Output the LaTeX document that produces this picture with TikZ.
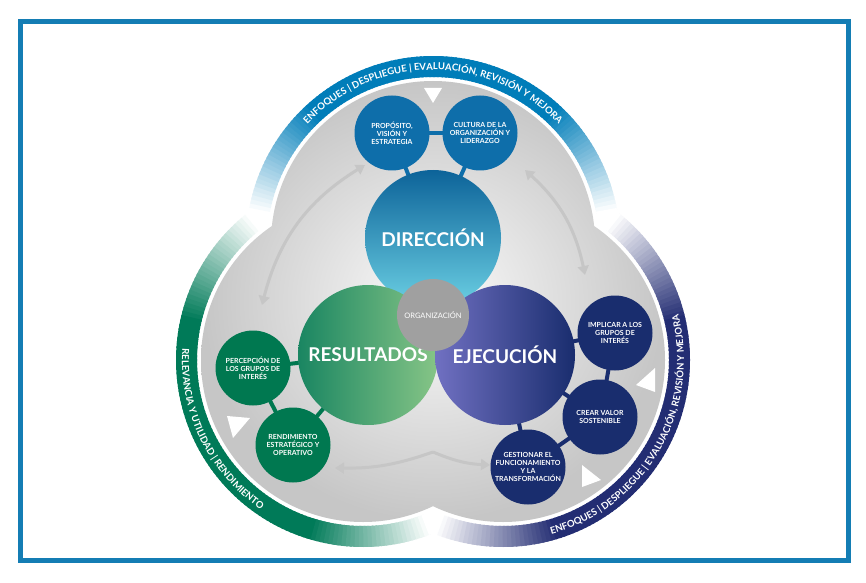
\documentclass[tikz,border=0pt]{standalone}
\usepackage{fontspec}
\setmainfont{Lato}
\usetikzlibrary{decorations.text,arrows.meta}
\definecolor{frameblue}{RGB}{20,125,180}
\definecolor{topblue}{RGB}{0,125,185}
\definecolor{leftgreen}{RGB}{0,122,88}
\definecolor{rightnavy}{RGB}{35,45,115}
\definecolor{propblue}{RGB}{14,110,170}
\definecolor{resgreen}{RGB}{0,120,80}
\definecolor{ejenavy}{RGB}{25,45,110}
\definecolor{orggray}{RGB}{160,160,160}
% band of one lobe, fading to white at both ends
\newcommand{\drawband}[4]{%
  \foreach \i in {0,...,119}{%
    \pgfmathsetmacro\aa{#2+(#3-#2)/120*\i}
    \pgfmathsetmacro\ab{#2+(#3-#2)/120*(\i+1.5)}
    \pgfmathtruncatemacro\pp{100*min(1,min(\i,119-\i)/28)}
    \draw[line width=21pt,#4!\pp!white] (#1) ++(\aa:176.5) arc[start angle=\aa,end angle=\ab,radius=176.5];
  }}
\begin{document}
\begin{tikzpicture}[x=1pt,y=1pt,
    bigcirc/.style={circle, minimum size=#1, text=white, font=\fontsize{19}{19}\selectfont\bfseries, inner sep=0pt},
    smallcirc/.style={circle, fill=#1, minimum size=75pt, text=white, font=\fontsize{7}{8}\selectfont\bfseries, align=center, inner sep=0pt},
    link/.style={line width=4pt, draw=#1},
    flow/.style={draw=gray!45, line width=3pt, -{Triangle[length=9pt,width=11pt]}},
    bandtext/.style={decorate, decoration={text along path, text format delimiters={[}{]}, text={[\fontsize{9.5}{10}\selectfont\bfseries]#1}, text color=white, text align=center}},
    marker/.style={fill=white, draw=none}
]
    \useasboundingbox[fill=white] (0,0) rectangle (866,582);

    % Frame
    \draw[line width=5pt, frameblue] (20,22) rectangle (848,560);

    % Lobe centres
    \coordinate (T) at (433,339);
    \coordinate (L) at (363,222);
    \coordinate (R) at (503,222);

    % Bands
    \drawband{L}{127.7}{292}{leftgreen}
    \drawband{R}{-112}{52.3}{rightnavy}
    \drawband{T}{170.5}{9.5}{topblue}

    % Band texts
    \path[bandtext={ENFOQUES  |  DESPLIEGUE  |  EVALUACIÓN,  REVISIÓN  Y  MEJORA}] (T) ++(150:173) arc[start angle=150, end angle=30, radius=173];
    \path[bandtext={ENFOQUES  |  DESPLIEGUE  |  EVALUACIÓN,  REVISIÓN  Y  MEJORA}] (R) ++(-88:181) arc[start angle=-88, end angle=28, radius=181];
    \path[bandtext={RELEVANCIA  Y  UTILIDAD  |  RENDIMIENTO}] (L) ++(166:181) arc[start angle=166, end angle=246, radius=181];

    % Grey interior
    \shade[inner color=gray!3, outer color=gray!45] (T) circle (162) (L) circle (162) (R) circle (162);

    % White markers
    \fill[marker] (424,494) -- (442,494) -- (433,479) -- cycle;
    \fill[marker] (227,166) -- (250,164) -- (233,144) -- cycle;
    \fill[marker] (655,214) -- (655,190) -- (636,197) -- cycle;
    \fill[marker] (582,117) -- (582,95) -- (601,102) -- cycle;

    % Flow arcs
    \coordinate (la) at (365,417);
    \coordinate (lb) at (262,277);
    \coordinate (ra) at (525,412);
    \coordinate (rb) at (585,307);
    \coordinate (ba) at (335,114);
    \coordinate (bm) at (433,130);
    \coordinate (bb) at (490,117);
    \draw[flow, {Triangle[length=9pt,width=11pt]}-{Triangle[length=9pt,width=11pt]}] (la) to[bend right=22] (lb);
    \draw[flow, {Triangle[length=9pt,width=11pt]}-{Triangle[length=9pt,width=11pt]}] (ra) to[bend left=18] (rb);
    \draw[flow] (bm) to[bend left=10] (ba);
    \draw[flow] (bm) to[bend right=10] (bb);

    % Circle centres
    \coordinate (dirc) at (433,344);
    \coordinate (resc) at (368,227);
    \coordinate (ejec) at (505,227);
    \coordinate (propc) at (392,449);
    \coordinate (cultc) at (480,449);
    \coordinate (implc) at (615,249);
    \coordinate (crearc) at (600,165);
    \coordinate (gestc) at (528,115);
    \coordinate (percc) at (253,214);
    \coordinate (rendc) at (293,137);

    % Links
    \draw[link=propblue] (propc) -- (cultc);
    \draw[link=propblue] (propc) -- (dirc);
    \draw[link=propblue] (cultc) -- (dirc);
    \draw[link=ejenavy] (implc) -- (crearc);
    \draw[link=ejenavy] (crearc) -- (gestc);
    \draw[link=ejenavy] (implc) -- (ejec);
    \draw[link=ejenavy] (crearc) -- (ejec);
    \draw[link=ejenavy] (gestc) -- (ejec);
    \draw[link=resgreen] (percc) -- (rendc);
    \draw[link=resgreen] (percc) -- (resc);
    \draw[link=resgreen] (rendc) -- (resc);

    % Main circles
    \node[bigcirc=136pt, top color=propblue!90!black, bottom color=cyan!45!propblue!60!white] (dir) at (dirc) {DIRECCIÓN};
    \node[bigcirc=140pt, left color=resgreen!90, right color=green!35!gray!70] (res) at (resc) {RESULTADOS};
    \node[bigcirc=140pt, left color=blue!40!gray!80, right color=ejenavy] (eje) at (ejec) {EJECUCIÓN};
    \node[circle, fill=orggray, minimum size=72pt, text=white, font=\fontsize{7.5}{8}\selectfont] (org) at (433,267) {ORGANIZACIÓN};

    % Sub-criteria
    \node[smallcirc=propblue] (prop) at (propc) {PROPÓSITO,\\VISIÓN Y\\ESTRATEGIA};
    \node[smallcirc=propblue] (cult) at (cultc) {CULTURA DE LA\\ORGANIZACIÓN Y\\LIDERAZGO};
    \node[smallcirc=ejenavy] (impl) at (implc) {IMPLICAR A LOS\\GRUPOS DE\\INTERÉS};
    \node[smallcirc=ejenavy] (crear) at (crearc) {CREAR VALOR\\SOSTENIBLE};
    \node[smallcirc=ejenavy] (gest) at (gestc) {GESTIONAR EL\\FUNCIONAMIENTO\\Y LA\\TRANSFORMACIÓN};
    \node[smallcirc=resgreen] (perc) at (percc) {PERCEPCIÓN DE\\LOS GRUPOS DE\\INTERÉS};
    \node[smallcirc=resgreen] (rend) at (rendc) {RENDIMIENTO\\ESTRATÉGICO Y\\OPERATIVO};

\end{tikzpicture}
\end{document}
